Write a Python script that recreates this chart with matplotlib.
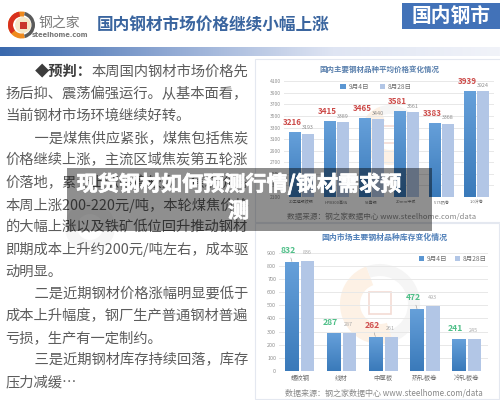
import numpy as np
import matplotlib
matplotlib.use('Agg')
import matplotlib.pyplot as plt
from matplotlib.patches import Rectangle, Circle, Wedge
from matplotlib.colors import LinearSegmentedColormap
import matplotlib.patheffects as pe

plt.rcParams['font.family'] = ['Noto Sans CJK SC', 'DejaVu Sans']

# ---------- data ----------
series_names = ['9月4日', '8月28日']
price_categories = ['20工程螺纹钢', 'HPB300高线', '5#角钢', '20mm中板', '5.75热卷', '1.0冷卷']
price_sep4 = [3216, 3415, 3465, 3581, 3383, 3939]
price_aug28 = [3193, 3389, 3440, 3561, 3368, 3924]
price_ticks = [2100, 2300, 2500, 2700, 2900, 3100, 3300, 3500, 3700, 3900, 4100]

stock_categories = ['螺纹钢', '线材', '中厚板', '热轧板卷', '冷轧板卷']
stock_sep4 = [832, 287, 262, 472, 241]
stock_aug28 = [836, 287, 261, 493, 245]
stock_colors = ['#4fbf88', '#4fbf88', '#d05050', '#4fbf88', '#4fbf88']
stock_leaders = [True, False, True, True, False]
stock_ticks = [0, 100, 200, 300, 400, 500, 600, 700, 800, 900]

body_lines = [
    '扬后抑、震荡偏强运行。从基本面看，',
    '当前钢材市场环境继续好转。',
    '　　一是煤焦供应紧张，煤焦包括焦炭',
    '价格继续上涨，主流区域焦炭第五轮涨',
    '价落地，累计上涨幅度较大，焦炭价格',
    '本周上涨200-220元/吨，本轮煤焦价格',
    '的大幅上涨以及铁矿低位回升推动钢材',
    '即期成本上升约200元/吨左右，成本驱',
    '动明显。',
    '　　二是近期钢材价格涨幅明显要低于',
    '成本上升幅度，钢厂生产普通钢材普遍',
    '亏损，生产有一定制约。',
    '　　三是近期钢材库存持续回落，库存',
    '压力减缓…',
]
headline = '国内钢材市场价格继续小幅上涨'
badge = '国内钢市'
overlay_title = ['现货钢材如何预测行情/钢材需求预', '测']

W, H = 500, 400
fig = plt.figure(figsize=(W / 100, H / 100), dpi=100, facecolor='white')


def px_axes(x0, y0, x1, y1, z):
    a = fig.add_axes([x0 / W, 1 - y1 / H, (x1 - x0) / W, (y1 - y0) / H])
    a.set_zorder(z)
    a.patch.set_alpha(0)
    return a


# ---------- page layer ----------
page = px_axes(0, 0, W, H, 0)
page.set_xlim(0, W)
page.set_ylim(H, 0)
page.axis('off')

strip = LinearSegmentedColormap.from_list('s', ['#3a69ad', '#8fa8d3', '#dfe5f3', '#f1f3f9'])
page.imshow(np.linspace(0, 1, 256)[None, :], extent=(0, W, 56, 47), cmap=strip, aspect='auto', zorder=1)
page.add_patch(Rectangle((401.5, 3), 98.5, 26, fc='#4272b8', ec='none', zorder=1))
page.text(451, 16, badge, color='white', fontsize=14.2, fontweight='bold', ha='center', va='center', zorder=2)
page.text(97, 26, headline, color='#3a659f', fontsize=12, fontweight='bold', va='center', zorder=2)

# logo
page.add_patch(Wedge((21.5, 25), 13.5, 75, 285, width=5, fc='#ef8a1d', ec='none', zorder=2))
page.add_patch(Wedge((21.5, 25), 13.5, 140, 260, width=5, fc='#d8301e', ec='none', zorder=3))
page.add_patch(Wedge((21.5, 25), 13.5, 285, 75, width=3.5, fc='#5a5a5a', ec='none', zorder=2))
page.add_patch(Circle((23, 25), 8, fc='#f5e8c8', ec='none', zorder=2))
page.add_patch(Rectangle((19.5, 21.5), 7, 7, fc='#c9362b', ec='none', zorder=3))
page.text(59, 24, '钢之家', color='#7b7b7b', fontsize=10, va='center', ha='center', zorder=2)
page.text(59.5, 35, 'steelhome.com', color='#777777', fontsize=4.8, fontweight='bold',
          va='center', ha='center', family='DejaVu Sans', zorder=2)

# article watermark
page.add_patch(Wedge((90, 227), 25, 0, 360, width=12, fc='#f6f6f6', ec='none', zorder=1))

# article text
page.text(35, 71.5, '◆预判：', color='#3c3c3c', fontsize=10.3, fontweight='bold', va='center', zorder=2)
page.text(92, 71.5, '本周国内钢材市场价格先', color='#5c5c5c', fontsize=10.3, va='center', zorder=2)
for i, line in enumerate(body_lines):
    page.text(5.5, 94 + i * 22.2, line, color='#5c5c5c', fontsize=10.3, va='center', zorder=2)

# chart panels
page.add_patch(Rectangle((254.5, 58.5), 246, 163, fc='white', ec='#e4e8f0', lw=0.8, zorder=1))
page.add_patch(Rectangle((255, 222.5), 243.5, 176.5, fc='white', ec='#e4e8f0', lw=0.8, zorder=1))


def watermark(cx, cy, r):
    page.add_patch(Wedge((cx, cy), r, 70, 250, width=r * 0.5, fc='#fdf1e5', ec='none', zorder=1.5))
    page.add_patch(Wedge((cx, cy), r, 250, 70, width=r * 0.3, fc='#f5f5f5', ec='none', zorder=1.5))
    page.add_patch(Rectangle((cx - r * 0.27, cy - r * 0.3), r * 0.54, r * 0.55, fc='none',
                             ec='#f3dcd4', lw=1.2, zorder=1.6))


watermark(390, 135, 30)
watermark(380, 304, 40)

page.text(379.5, 68.7, '国内主要钢材品种平均价格变化情况', color='#5a80ad', fontsize=5.4,
          fontweight='bold', ha='center', va='center', zorder=3)
page.text(381.5, 216.7, '数据来源：钢之家数据中心 www.steelhome.com/data', color='#888888',
          fontsize=5.5, ha='center', va='center', zorder=3)
page.text(384.5, 237, '国内市场主要钢材品种库存变化情况', color='#4f7fb8', fontsize=5.7,
          fontweight='bold', ha='center', va='center', zorder=3)
page.text(384, 393, '数据来源：钢之家数据中心 www.steelhome.com/data', color='#888888',
          fontsize=5.8, ha='center', va='center', zorder=3)

grad = LinearSegmentedColormap.from_list('g', ['#66a0da', '#3a7aba'])
FLAT = '#b2c6e6'
GRID = '#e8e8e8'


def draw_chart(ax, cats, a_vals, b_vals, ticks, width, off, tick_fs, cat_fs):
    n = len(cats)
    x = np.arange(n)
    ax.set_xlim(-0.5, n - 0.5)
    ax.set_ylim(ticks[0], ticks[-1])
    bars_a = ax.bar(x - off, a_vals, width, color='#5a96d2', bottom=0, zorder=2,
                    label=series_names[0])
    bars_b = ax.bar(x + off, b_vals, width, color=FLAT, bottom=0, zorder=2,
                    label=series_names[1])
    for b in bars_a:
        im = ax.imshow(np.linspace(0, 1, 64)[:, None], cmap=grad, aspect='auto', zorder=2.1,
                       extent=(b.get_x(), b.get_x() + b.get_width(), ticks[0], b.get_height()),
                       origin='upper')
        im.set_clip_path(b)
    ax.set_xlim(-0.5, n - 0.5)
    ax.set_ylim(ticks[0], ticks[-1])
    ax.set_yticks(ticks)
    ax.set_xticks(x)
    ax.set_xticklabels(cats)
    ax.tick_params(axis='both', length=0)
    ax.tick_params(axis='y', labelsize=tick_fs, labelcolor='#909090', pad=2)
    ax.tick_params(axis='x', labelsize=cat_fs, labelcolor='#707070', pad=2.5)
    ax.grid(axis='y', color=GRID, lw=0.7, zorder=1)
    ax.set_axisbelow(True)
    for s in ax.spines.values():
        s.set_visible(False)
    return x


# ---------- price chart ----------
ax1 = px_axes(284, 81.3, 494, 197, 2)
x1 = draw_chart(ax1, price_categories, price_sep4, price_aug28, price_ticks, 0.33, 0.19, 3.6, 2.9)
for xi, a, b in zip(x1, price_sep4, price_aug28):
    ax1.annotate(str(a), (xi - 0.19, a), xytext=(-2, 6.8), textcoords='offset points', ha='center',
                 va='center', color='#cc4a48', fontsize=5.8, fontweight='bold', zorder=5,
                 annotation_clip=False)
    ax1.annotate(str(b), (xi + 0.19, b), xytext=(0, 4.4), textcoords='offset points', ha='center',
                 va='center', color='#8c8c8c', fontsize=3.9, zorder=5, annotation_clip=False)
ax1.legend(loc='center', bbox_to_anchor=(376 / W, 1 - 87 / H), bbox_transform=fig.transFigure,
           ncol=2, frameon=False, fontsize=4.8, handlelength=0.8, handleheight=0.8,
           columnspacing=1.6, handletextpad=0.4, labelcolor='#707070')

# ---------- stock chart ----------
ax2 = px_axes(279, 252.7, 487.5, 371, 2)
x2 = draw_chart(ax2, stock_categories, stock_sep4, stock_aug28, stock_ticks, 0.32, 0.19, 3.9, 4.6)
for xi, a, b, c, lead in zip(x2, stock_sep4, stock_aug28, stock_colors, stock_leaders):
    ax2.annotate(str(a), (xi - 0.19, a), xytext=(-2.3, 8), textcoords='offset points', ha='center',
                 va='center', color=c, fontsize=6.2, fontweight='bold', zorder=5,
                 annotation_clip=False,
                 arrowprops=dict(arrowstyle='-', color='#999999', lw=0.4, shrinkA=0, shrinkB=0) if lead else None)
    ax2.annotate(str(b), (xi + 0.19, b), xytext=(-0.5, 6), textcoords='offset points', ha='center',
                 va='center', color='#aaaaaa', fontsize=3.9, zorder=5, annotation_clip=False)
ax2.legend(loc='center', bbox_to_anchor=(453 / W, 1 - 259 / H), bbox_transform=fig.transFigure,
           ncol=2, frameon=False, fontsize=4.8, handlelength=0.7, handleheight=0.7,
           columnspacing=1.2, handletextpad=0.4, labelcolor='#707070')

# ---------- overlay band ----------
top = px_axes(0, 0, W, H, 6)
top.set_xlim(0, W)
top.set_ylim(H, 0)
top.axis('off')
top.add_patch(Rectangle((67, 168), 365, 63, fc='black', ec='none', alpha=0.44))
stroke = [pe.withStroke(linewidth=0.5, foreground='white')]
top.text(239, 184, overlay_title[0], color='white', fontsize=15.2, fontweight='bold', ha='center',
         va='center', path_effects=stroke)
top.text(238.5, 211, overlay_title[1], color='white', fontsize=15.2, fontweight='bold', ha='center',
         va='center', path_effects=stroke)

fig.savefig('out.png', dpi=100)
